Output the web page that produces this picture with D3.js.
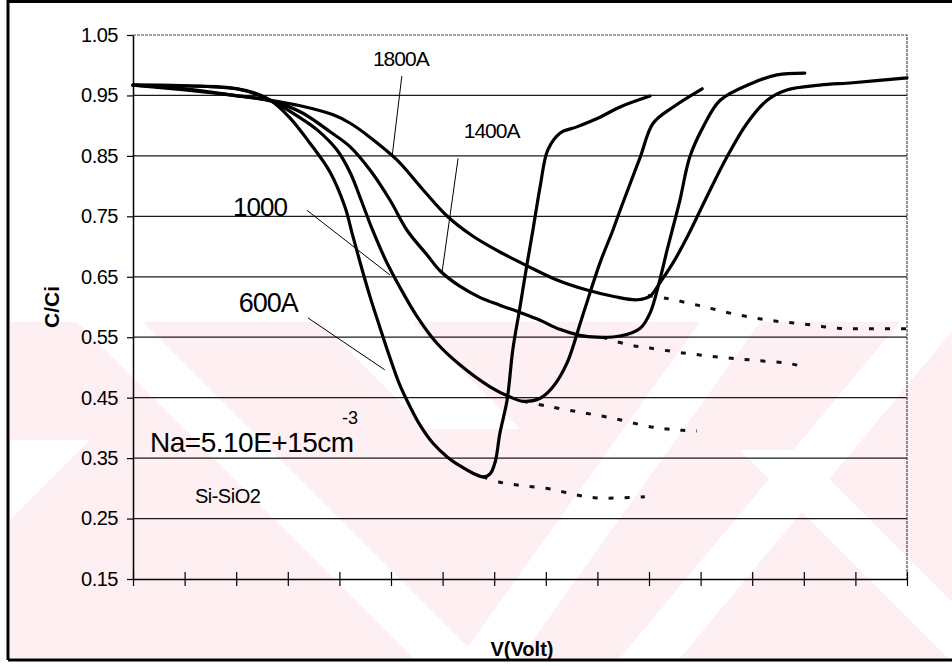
<!DOCTYPE html>
<html>
<head>
<meta charset="utf-8">
<script src="https://cdn.jsdelivr.net/npm/d3@7"></script>
<style>
  body { margin: 0; background: #fff; }
  svg { display: block; font-family: "Liberation Sans", Arial, sans-serif; }
</style>
</head>
<body>
<div id="chart"></div>
<script>
// C/Ci vs V for four oxide thicknesses.
// x is in tick units (the original axis has no numbers).
const volt600 = [0, 1.01, 2.02, 2.36, 2.66, 3.04, 3.43, 3.82, 4.11, 4.24, 4.40, 4.59, 4.79, 4.98, 5.17, 5.37, 5.56, 5.81, 6.09, 6.34, 6.59, 6.78, 6.92, 7.02, 7.11, 7.25, 7.36, 7.50, 7.64, 7.75, 7.89, 8.04, 8.28, 8.60, 9.05, 9.44, 10.02];
const cci600  = [0.967, 0.966, 0.961, 0.954, 0.942, 0.913, 0.871, 0.823, 0.765, 0.724, 0.674, 0.618, 0.565, 0.516, 0.471, 0.435, 0.405, 0.375, 0.352, 0.337, 0.325, 0.319, 0.324, 0.344, 0.391, 0.446, 0.529, 0.600, 0.673, 0.727, 0.799, 0.860, 0.888, 0.898, 0.914, 0.931, 0.949];

const volt1000 = [0, 1.01, 2.02, 2.66, 3.24, 3.57, 3.95, 4.21, 4.42, 4.63, 4.90, 5.17, 5.50, 5.89, 6.34, 6.92, 7.31, 7.56, 7.89, 8.14, 8.41, 8.70, 9.05, 9.30, 9.44, 9.83, 10.08, 10.47, 11.03];
const cci1000  = [0.967, 0.966, 0.961, 0.942, 0.913, 0.893, 0.860, 0.822, 0.777, 0.730, 0.677, 0.633, 0.585, 0.540, 0.504, 0.468, 0.451, 0.444, 0.449, 0.468, 0.507, 0.582, 0.673, 0.727, 0.760, 0.848, 0.904, 0.931, 0.961];

const volt1400 = [0, 1.01, 1.88, 2.66, 3.24, 3.82, 4.21, 4.59, 4.98, 5.31, 5.70, 5.95, 6.34, 6.72, 7.11, 7.50, 7.89, 8.27, 8.66, 8.99, 9.44, 9.83, 10.02, 10.21, 10.35, 10.45, 10.60, 10.79, 11.05, 11.38, 12.02, 12.48, 13.02];
const cci1400  = [0.967, 0.961, 0.951, 0.941, 0.923, 0.890, 0.865, 0.827, 0.777, 0.727, 0.686, 0.660, 0.634, 0.616, 0.603, 0.591, 0.578, 0.563, 0.553, 0.550, 0.552, 0.565, 0.590, 0.645, 0.694, 0.727, 0.777, 0.848, 0.898, 0.942, 0.971, 0.984, 0.987];

const volt1800 = [0, 1.01, 1.88, 2.66, 3.24, 3.88, 4.21, 4.59, 5.12, 5.62, 6.08, 6.59, 7.11, 7.64, 8.18, 8.80, 9.34, 9.77, 10.02, 10.21, 10.50, 10.76, 11.09, 11.51, 11.90, 12.29, 12.67, 13.31, 13.95, 15.0];
const cci1800  = [0.967, 0.959, 0.951, 0.942, 0.933, 0.918, 0.904, 0.881, 0.843, 0.794, 0.751, 0.717, 0.691, 0.668, 0.646, 0.628, 0.617, 0.612, 0.618, 0.640, 0.678, 0.719, 0.777, 0.848, 0.904, 0.942, 0.959, 0.967, 0.971, 0.979];

// dotted continuations (deep depletion branch)
const volt600d = [6.78, 7.17, 7.60, 8.08, 8.60, 8.99, 9.38, 9.92];
const cci600d  = [0.319, 0.309, 0.304, 0.299, 0.289, 0.284, 0.284, 0.286];
const volt1000d = [7.56, 8.02, 8.66, 9.30, 9.96, 10.35, 10.64, 10.93];
const cci1000d  = [0.444, 0.436, 0.426, 0.416, 0.403, 0.398, 0.396, 0.395];
const volt1400d = [9.10, 9.63, 10.02, 10.66, 11.38, 12.02, 12.67, 12.97];
const cci1400d  = [0.550, 0.537, 0.532, 0.524, 0.517, 0.512, 0.507, 0.502];
const volt1800d = [9.98, 10.35, 10.99, 11.67, 12.34, 12.98, 13.66, 14.34, 15.0];
const cci1800d  = [0.619, 0.614, 0.602, 0.588, 0.578, 0.572, 0.565, 0.564, 0.564];

const yTicks = [0.15, 0.25, 0.35, 0.45, 0.55, 0.65, 0.75, 0.85, 0.95, 1.05];
const xTicks = d3.range(0, 16);

// curve labels: text, anchor point, leader line start/end (data units)
const labels = [
  { text: "1800A", x: 4.65, y: 0.999, size: 21, lx1: 5.21, ly1: 0.982, lx2: 5.02, ly2: 0.848 },
  { text: "1400A", x: 6.41, y: 0.880, size: 21, lx1: 6.30, ly1: 0.846, lx2: 5.99, ly2: 0.658 },
  { text: "1000",  x: 1.94, y: 0.750, size: 26, lx1: 3.37, ly1: 0.760, lx2: 4.98, ly2: 0.653 },
  { text: "600A",  x: 2.05, y: 0.592, size: 27, lx1: 3.39, ly1: 0.582, lx2: 4.88, ly2: 0.496 }
];

const width = 952, height = 667;
const margin = { top: 35, right: 45, bottom: 88, left: 133 };

const svg = d3.select("#chart").append("svg")
  .attr("width", width)
  .attr("height", height);

const x = d3.scaleLinear().domain([0, 15]).range([margin.left, width - margin.right]);
const y = d3.scaleLinear().domain([0.15, 1.05]).range([height - margin.bottom, margin.top]);

// faint pink watermark of the scan
const wm = svg.append("g");
wm.append("clipPath").attr("id", "wmclip")
  .append("rect").attr("x", 10).attr("y", 322).attr("width", 942).attr("height", 336);
const wg = wm.append("g").attr("clip-path", "url(#wmclip)");
wg.append("rect").attr("x", 10).attr("y", 322).attr("width", 942).attr("height", 336).attr("fill", "#fdeff2");
const white = [
  [[77, 322], [143, 322], [479, 658], [413, 658]],
  [[320, 322], [413, 322], [520, 429], [427, 429]],
  [[700, 322], [760, 322], [520, 658], [460, 658]],
  [[900, 322], [960, 322], [680, 658], [620, 658]],
  [[740, 450], [800, 450], [1010, 660], [950, 660]],
  [[10, 440], [10, 520], [90, 440]]
];
wg.selectAll("polygon").data(white).join("polygon")
  .attr("points", d => d.map(p => p.join(",")).join(" "))
  .attr("fill", "#fff");

// horizontal gridlines
svg.append("g")
  .selectAll("line")
  .data(yTicks.slice(1, -1))
  .join("line")
  .attr("x1", x(0)).attr("x2", x(15))
  .attr("y1", d => y(d)).attr("y2", d => y(d))
  .attr("stroke", "#1a1a1a")
  .attr("stroke-width", 1.2);

// top and right edge of plot area (ragged in the scan)
svg.append("path")
  .attr("d", `M${x(0)},${y(1.05)}H${x(15)}V${y(0.15)}`)
  .attr("fill", "none")
  .attr("stroke", "#444")
  .attr("stroke-width", 1.2)
  .attr("stroke-dasharray", "3,1");

// y axis
const yAxis = svg.append("g")
  .attr("transform", `translate(${margin.left},0)`)
  .call(d3.axisLeft(y).tickValues(yTicks).tickSize(6).tickSizeOuter(0).tickFormat(d3.format(".2f")).tickPadding(9));
yAxis.select(".domain").attr("stroke", "#000").attr("stroke-width", 1.5);
yAxis.selectAll(".tick line").attr("stroke", "#000").attr("stroke-width", 1.2);
yAxis.selectAll(".tick text")
  .attr("font-family", "'Liberation Sans', Arial, sans-serif")
  .attr("font-size", 20)
  .attr("letter-spacing", -0.5)
  .attr("fill", "#000");

// x axis with ticks crossing the line, no labels
const xAxis = svg.append("g")
  .attr("transform", `translate(0,${height - margin.bottom})`)
  .call(d3.axisBottom(x).tickValues(xTicks).tickSize(7).tickSizeOuter(0).tickFormat(""));
xAxis.select(".domain").attr("stroke", "#000").attr("stroke-width", 1.5);
xAxis.selectAll(".tick line").attr("y1", -7).attr("y2", 7).attr("stroke", "#000").attr("stroke-width", 1.2);

// curves
const line = d3.line()
  .x(d => x(d[0]))
  .y(d => y(d[1]))
  .curve(d3.curveCatmullRom.alpha(0.5));

const solid = [
  d3.zip(volt600, cci600),
  d3.zip(volt1000, cci1000),
  d3.zip(volt1400, cci1400),
  d3.zip(volt1800, cci1800)
];
const dotted = [
  d3.zip(volt600d, cci600d),
  d3.zip(volt1000d, cci1000d),
  d3.zip(volt1400d, cci1400d),
  d3.zip(volt1800d, cci1800d)
];

svg.append("g").selectAll("path")
  .data(dotted)
  .join("path")
  .attr("d", line)
  .attr("fill", "none")
  .attr("stroke", "#111")
  .attr("stroke-width", 3)
  .attr("stroke-dasharray", "5,11");

svg.append("g").selectAll("path")
  .data(solid)
  .join("path")
  .attr("d", line)
  .attr("fill", "none")
  .attr("stroke", "#000")
  .attr("stroke-width", 3.2)
  .attr("stroke-linejoin", "round")
  .attr("stroke-linecap", "round");

// labels with leader lines
const lab = svg.append("g");
lab.selectAll("line")
  .data(labels)
  .join("line")
  .attr("x1", d => x(d.lx1)).attr("y1", d => y(d.ly1))
  .attr("x2", d => x(d.lx2)).attr("y2", d => y(d.ly2))
  .attr("stroke", "#000")
  .attr("stroke-width", 1);
lab.selectAll("text")
  .data(labels)
  .join("text")
  .attr("x", d => x(d.x)).attr("y", d => y(d.y))
  .attr("font-size", d => d.size)
  .attr("letter-spacing", -1)
  .text(d => d.text);

svg.append("text")
  .attr("x", x(0.33)).attr("y", y(0.360))
  .attr("font-size", 28)
  .attr("letter-spacing", -0.5)
  .text("Na=5.10E+15cm");
svg.append("text")
  .attr("x", x(4.05)).attr("y", y(0.407))
  .attr("font-size", 18)
  .text("-3");
svg.append("text")
  .attr("x", x(1.20)).attr("y", y(0.276))
  .attr("font-size", 20)
  .attr("letter-spacing", -0.5)
  .text("Si-SiO2");

// axis titles
svg.append("text")
  .attr("transform", "translate(59,307) rotate(-90)")
  .attr("text-anchor", "middle")
  .attr("font-size", 21)
  .attr("font-weight", "bold")
  .text("C/Ci");
svg.append("text")
  .attr("x", 522).attr("y", 656)
  .attr("text-anchor", "middle")
  .attr("font-size", 20)
  .attr("font-weight", "bold")
  .text("V(Volt)");

// outer frame (left, top, bottom)
svg.append("path")
  .attr("d", "M8,660V1.5H952M8,660H952")
  .attr("fill", "none")
  .attr("stroke", "#000")
  .attr("stroke-width", 3);
</script>
</body>
</html>
